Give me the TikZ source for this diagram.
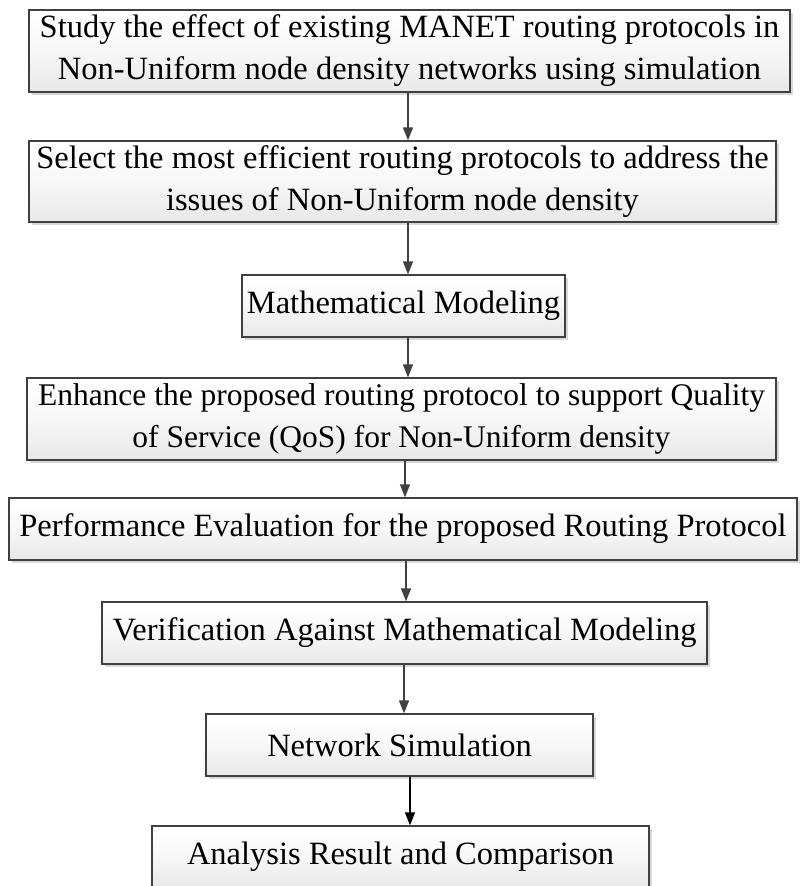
\documentclass[tikz,border=0pt]{standalone}
\usepackage{fontspec}
\setmainfont{Liberation Serif}
\usetikzlibrary{arrows.meta,shadows}
\definecolor{edge}{HTML}{404040}
\tikzset{
  flowbox/.style={draw=edge, line width=1.3pt, inner sep=0pt,
    top color=white, bottom color=black!9, middle color=white!97!black,
    drop shadow={shadow xshift=2.5pt, shadow yshift=-2.5pt, fill=black!25, opacity=0.6},
    align=center, font=\fontsize{32.5}{42}\selectfont},
  arr/.style={draw=edge, line width=1.5pt, -{Triangle[length=13pt,width=10pt]}},
  arrk/.style={draw=black, line width=1.3pt, -{Triangle[length=13pt,width=10pt]}}
}
\begin{document}
\begin{tikzpicture}[x=1pt,y=-1pt]
\useasboundingbox (0,0) rectangle (800,886);
\clip (0,0) rectangle (800,886);
\fill[white] (0,0) rectangle (800,886);
\node[flowbox, minimum width=761pt, minimum height=82pt] (b1) at (409.5,51)
  {Study the effect of existing MANET routing protocols in\\Non-Uniform node density networks using simulation};
\node[flowbox, minimum width=747pt, minimum height=81pt] (b2) at (402.5,181.5)
  {Select the most efficient routing protocols to address the\\issues of Non-Uniform node density};
\node[flowbox, minimum width=323pt, minimum height=62pt] (b3) at (403.5,306)
  {Mathematical Modeling};
\node[flowbox, minimum width=749pt, minimum height=82pt, font=\fontsize{31.5}{42}\selectfont] (b4) at (401.5,419)
  {Enhance the proposed routing protocol to support Quality\\of Service (QoS) for Non-Uniform density};
\node[flowbox, minimum width=788pt, minimum height=62pt] (b5) at (403,529)
  {Performance Evaluation for the proposed Routing Protocol};
\node[flowbox, minimum width=605pt, minimum height=62pt] (b6) at (404.5,633)
  {Verification Against Mathematical Modeling};
\node[flowbox, minimum width=387pt, minimum height=62pt] (b7) at (399.5,745)
  {Network Simulation};
\node[flowbox, minimum width=497pt, minimum height=62pt] (b8) at (400.5,857)
  {Analysis Result and Comparison};
\coordinate (x1) at (408,0);
\coordinate (x2) at (405,0);
\coordinate (x3) at (406,0);
\coordinate (x4) at (404,0);
\coordinate (x5) at (410,0);
\draw[arr] (b1.south -| x1) -- (b2.north -| x1);
\draw[arr] (b2.south -| x1) -- (b3.north -| x1);
\draw[arr] (b3.south -| x1) -- (b4.north -| x1);
\draw[arr] (b4.south -| x2) -- (b5.north -| x2);
\draw[arr] (b5.south -| x3) -- (b6.north -| x3);
\draw[arr] (b6.south -| x4) -- (b7.north -| x4);
\draw[arrk] (b7.south -| x5) -- (b8.north -| x5);
\end{tikzpicture}
\end{document}
